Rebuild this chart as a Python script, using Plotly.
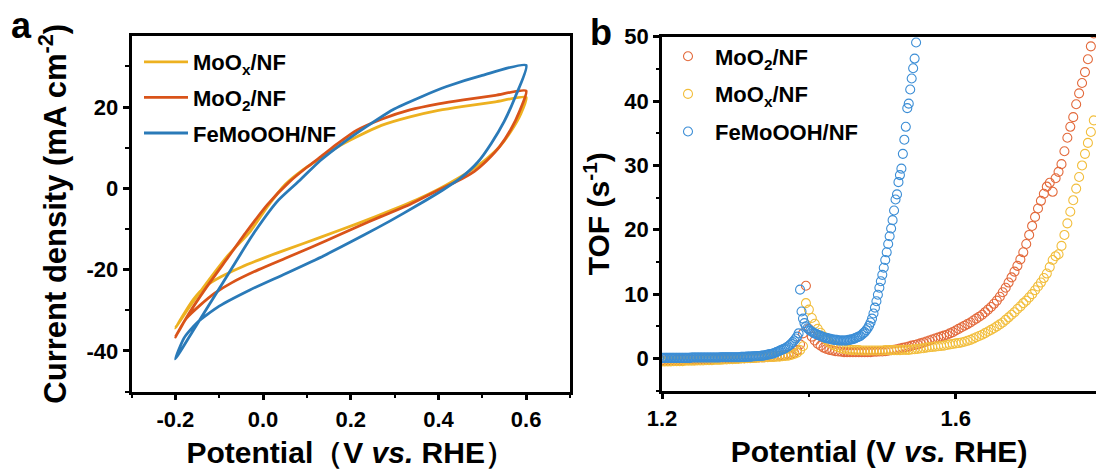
import numpy as np
import plotly.graph_objects as go

FONT = "Liberation Sans, Arial, sans-serif"

# ---------------- panel a: cyclic voltammograms ----------------
# each loop: anodic branch from -0.2 V up to 0.6 V, then cathodic branch back
moox_v = [-0.2, -0.17, -0.13, -0.08, -0.03, 0.01, 0.051, 0.09, 0.132, 0.17, 0.214, 0.27, 0.335, 0.4, 0.457, 0.53, 0.6,
          0.588, 0.565, 0.539, 0.51, 0.482, 0.44, 0.4, 0.35, 0.295, 0.22, 0.132, 0.05, 0.01, -0.05, -0.095, -0.13, -0.16, -0.2]
moox_j = [-34.4, -29.5, -23.5, -16.5, -10.7, -4.5, 1.0, 4.5, 7.5, 10.2, 12.7, 15.5, 17.6, 19.2, 20.2, 21.3, 22.4,
          18.4, 14.0, 10.2, 7.3, 5.0, 2.2, -0.2, -2.8, -5.3, -8.5, -12.0, -15.2, -16.8, -19.4, -21.7, -24.0, -27.5, -34.4]

moo2_v = [-0.2, -0.17, -0.13, -0.08, -0.038, 0.01, 0.06, 0.1, 0.132, 0.17, 0.214, 0.27, 0.335, 0.4, 0.457, 0.53, 0.6,
          0.585, 0.565, 0.539, 0.51, 0.482, 0.44, 0.4, 0.336, 0.27, 0.214, 0.173, 0.11, 0.051, -0.01, -0.071, -0.11,
          -0.144, -0.175, -0.2]
moo2_j = [-36.6, -31.0, -24.5, -17.0, -10.7, -4.0, 1.6, 5.2, 7.8, 11.0, 14.3, 17.0, 19.3, 20.8, 21.8, 22.9, 24.0,
          19.0, 14.5, 10.2, 6.8, 4.2, 1.6, -0.4, -3.9, -6.9, -9.5, -11.5, -14.5, -17.2, -20.0, -23.2, -25.8,
          -28.8, -32.0, -36.6]

femo_v = [-0.2, -0.16, -0.13, -0.08, -0.019, 0.035, 0.084, 0.13, 0.181, 0.24, 0.295, 0.36, 0.417, 0.5, 0.6,
          0.575, 0.55, 0.52, 0.49, 0.45, 0.41, 0.35, 0.29, 0.23, 0.14, 0.051, -0.03, -0.1, -0.15, -0.18, -0.2]
femo_j = [-42.0, -35.1, -29.9, -21.2, -10.7, -2.9, 2.0, 6.8, 11.1, 15.5, 19.3, 22.5, 25.0, 27.8, 30.3,
          22.5, 16.5, 11.0, 6.5, 2.5, -0.4, -4.3, -8.0, -11.5, -16.5, -21.0, -25.0, -29.0, -33.0, -36.8, -42.0]

a_xtick_vals = [-0.2, 0.0, 0.2, 0.4, 0.6]
a_xtick_text = ["-0.2", "0.0", "0.2", "0.4", "0.6"]
a_ytick_vals = [-40, -20, 0, 20]
a_ytick_text = ["-40", "-20", "0", "20"]

# ---------------- panel b: turnover frequency ----------------
E_START = 1.2
STEP_RED_YELLOW = 0.004
STEP_BLUE = 0.002

tof_moo2 = [
    -0.3, -0.3, -0.3, -0.3, -0.3, -0.25, -0.25, -0.25, -0.2, -0.2,
    -0.2, -0.2, -0.2, -0.15, -0.15, -0.15, -0.1, -0.1, -0.1, -0.1,
    -0.05, -0.05, 0.0, 0.0, 0.0, 0.0, 0.05, 0.05, 0.05, 0.1,
    0.1, 0.1, 0.15, 0.15, 0.2, 0.2, 0.25, 0.3, 0.3, 0.35,
    0.4, 0.45, 0.5, 0.6, 0.7, 0.9, 1.3, 2.2, 3.9, 11.3,
    4.6, 3.4, 2.8, 2.3, 2.0, 1.7, 1.5, 1.35, 1.25, 1.15,
    1.1, 1.05, 1.0, 1.0, 1.0, 1.0, 1.0, 1.0, 1.0, 1.0,
    1.0, 1.0, 1.05, 1.05, 1.1, 1.1, 1.15, 1.2, 1.3, 1.35,
    1.45, 1.55, 1.65, 1.75, 1.85, 2.0, 2.1, 2.2, 2.35, 2.5,
    2.65, 2.8, 2.95, 3.1, 3.25, 3.4, 3.55, 3.7, 3.9, 4.1,
    4.35, 4.6, 4.85, 5.1, 5.35, 5.6, 5.9, 6.2, 6.5, 6.8,
    7.2, 7.6, 8.0, 8.5, 9.0, 9.6, 10.3, 11.0, 11.8, 12.6,
    13.5, 14.4, 15.4, 16.5, 17.8, 19.2, 20.6, 22.0, 23.3, 24.5,
    25.6, 26.7, 27.3, 25.9, 28.0, 29.0, 30.2, 32.2, 34.3, 36.0,
    37.5, 39.5, 41.2, 42.8, 44.5, 46.5, 48.5, 50.5,
]

tof_moox = [
    -0.45, -0.45, -0.45, -0.45, -0.4, -0.4, -0.4, -0.4, -0.35, -0.35,
    -0.35, -0.35, -0.3, -0.3, -0.3, -0.25, -0.25, -0.25, -0.2, -0.2,
    -0.2, -0.15, -0.15, -0.1, -0.1, -0.05, -0.05, 0.0, 0.0, 0.05,
    0.05, 0.1, 0.1, 0.15, 0.15, 0.2, 0.2, 0.25, 0.25, 0.3,
    0.3, 0.35, 0.4, 0.45, 0.55, 0.7, 0.9, 1.3, 1.9, 8.6,
    7.6, 6.3, 5.4, 4.6, 4.0, 3.4, 2.9, 2.5, 2.2, 1.95,
    1.75, 1.6, 1.5, 1.4, 1.35, 1.3, 1.3, 1.3, 1.25, 1.25,
    1.25, 1.25, 1.25, 1.25, 1.25, 1.25, 1.3, 1.3, 1.3, 1.3,
    1.3, 1.3, 1.35, 1.35, 1.35, 1.4, 1.45, 1.5, 1.55, 1.6,
    1.7, 1.75, 1.8, 1.85, 1.9, 1.95, 2.0, 2.1, 2.2, 2.25,
    2.35, 2.4, 2.5, 2.6, 2.75, 2.9, 3.1, 3.3, 3.5, 3.7,
    3.95, 4.2, 4.45, 4.7, 5.0, 5.3, 5.6, 6.0, 6.4, 6.8,
    7.2, 7.7, 8.1, 8.6, 9.0, 9.5, 10.0, 10.6, 11.2, 11.8,
    12.5, 13.2, 14.2, 15.3, 15.9, 16.2, 17.5, 19.2, 21.0, 22.8,
    24.6, 26.4, 28.2, 30.0, 31.8, 33.5, 35.2, 37.0,
]

tof_femo = [
    0.1, 0.1, 0.1, 0.1, 0.1, 0.1, 0.1, 0.1, 0.1, 0.1,
    0.1, 0.1, 0.1, 0.1, 0.1, 0.1, 0.1, 0.1, 0.1, 0.1,
    0.15, 0.15, 0.15, 0.15, 0.15, 0.15, 0.15, 0.15, 0.15, 0.15,
    0.15, 0.15, 0.15, 0.15, 0.15, 0.15, 0.15, 0.15, 0.15, 0.15,
    0.2, 0.2, 0.2, 0.2, 0.2, 0.2, 0.2, 0.2, 0.2, 0.2,
    0.2, 0.2, 0.2, 0.2, 0.25, 0.25, 0.25, 0.25, 0.3, 0.3,
    0.3, 0.3, 0.35, 0.35, 0.35, 0.4, 0.4, 0.4, 0.45, 0.45,
    0.5, 0.55, 0.6, 0.65, 0.7, 0.75, 0.8, 0.9, 1.0, 1.1,
    1.2, 1.3, 1.4, 1.5, 1.6, 1.75, 1.9, 2.1, 2.3, 2.55,
    2.8, 3.1, 3.4, 3.9, 10.7, 7.3, 6.2, 5.5, 5.0, 4.7,
    4.5, 4.3, 4.2, 4.0, 3.9, 3.8, 3.7, 3.6, 3.5, 3.4,
    3.3, 3.2, 3.2, 3.1, 3.1, 3.0, 3.0, 2.9, 2.9, 2.9,
    2.8, 2.8, 2.8, 2.8, 2.8, 2.8, 2.8, 2.9, 2.9, 3.0,
    3.0, 3.1, 3.2, 3.3, 3.4, 3.5, 3.7, 3.9, 4.1, 4.4,
    4.7, 5.1, 5.6, 6.2, 7.0, 7.9, 8.9, 9.9, 11.0, 12.0,
    13.0, 14.1, 15.3, 16.5, 17.8, 19.0, 20.2, 21.5, 23.0, 24.7,
    25.5, 27.4, 28.5, 29.5, 31.8, 34.0, 36.0, 38.9, 39.6, 41.8,
    43.5, 45.1, 46.6, 49.1,
]


def potentials(values, step):
    return np.round(E_START + step * np.arange(len(values)), 4)


b_xtick_vals = [1.2, 1.6]
b_xtick_text = ["1.2", "1.6"]
b_ytick_vals = [0, 10, 20, 30, 40, 50]
b_ytick_text = ["0", "10", "20", "30", "40", "50"]

# colours
C_YEL, C_RED, C_BLU = "#EDB120", "#D95319", "#2A7AB8"
M_RED, M_YEL, M_BLU = "#E36A3C", "#F2BE3C", "#3C8ED6"

W, H = 1096, 472


def px_x(p):
    return p / W


def px_y(p):
    return 1 - p / H


fig = go.Figure()

for name, v, j, col in [
    ("MoO<sub>x</sub>/NF", moox_v, moox_j, C_YEL),
    ("MoO<sub>2</sub>/NF", moo2_v, moo2_j, C_RED),
    ("FeMoOOH/NF", femo_v, femo_j, C_BLU),
]:
    fig.add_trace(go.Scatter(
        x=v, y=j, mode="lines", name=name, legendgroup=name, legend="legend",
        line=dict(color=col, width=2.8, shape="spline", smoothing=0.6),
        xaxis="x", yaxis="y",
    ))

for name, tof, step, col in [
    ("MoO<sub>2</sub>/NF", tof_moo2, STEP_RED_YELLOW, M_RED),
    ("MoO<sub>x</sub>/NF", tof_moox, STEP_RED_YELLOW, M_YEL),
    ("FeMoOOH/NF", tof_femo, STEP_BLUE, M_BLU),
]:
    fig.add_trace(go.Scatter(
        x=potentials(tof, step), y=tof, mode="markers", name=name,
        legendgroup="b" + name, legend="legend2",
        marker=dict(symbol="circle-open", size=9, color=col, line=dict(width=1.1, color=col)),
        xaxis="x2", yaxis="y2",
    ))

axis_common = dict(
    showline=True, linewidth=2.5, linecolor="black", showgrid=False, zeroline=False,
    ticks="outside", ticklen=6, tickwidth=2.5, tickcolor="black",
    tickfont=dict(size=22, family=FONT, weight="bold", color="black"),
    tickmode="array", automargin=False,
)
title_font = dict(size=30, family=FONT, weight="bold", color="black")

fig.update_layout(
    width=W, height=H, margin=dict(l=0, r=0, t=0, b=0, autoexpand=False),
    paper_bgcolor="white", plot_bgcolor="white",
    font=dict(family=FONT, size=22, color="black", weight="bold"),
    xaxis=dict(
        axis_common, domain=[px_x(131.5), px_x(570)], range=[-0.3, 0.7], mirror=True,
        tickvals=a_xtick_vals, ticktext=a_xtick_text,
        minor=dict(tickmode="linear", tick0=-0.3, dtick=0.1, ticks="outside", ticklen=3.5, tickwidth=2),
        title=dict(text="Potential（V <i>vs.</i> RHE）", font=title_font, standoff=12),
        anchor="y",
    ),
    yaxis=dict(
        axis_common, domain=[px_y(391.5), px_y(36)], range=[-50, 37.5], mirror=True,
        tickvals=a_ytick_vals, ticktext=a_ytick_text,
        minor=dict(tickmode="linear", tick0=-50, dtick=10, ticks="outside", ticklen=3.5, tickwidth=2),
        title=dict(text="Current density (mA cm<sup>-2</sup>)",
                   font=dict(title_font, size=31), standoff=11),
        anchor="x",
    ),
    xaxis2=dict(
        axis_common, domain=[px_x(662), 1.0], range=[1.2, 1.791], mirror=True,
        tickvals=b_xtick_vals, ticktext=b_xtick_text,
        minor=dict(tickmode="linear", tick0=1.2, dtick=0.2, ticks="outside", ticklen=3.5, tickwidth=2),
        title=dict(text="Potential (V <i>vs.</i> RHE)", font=title_font, standoff=12),
        anchor="y2",
    ),
    yaxis2=dict(
        axis_common, domain=[px_y(390.7), px_y(36.7)], range=[-5, 50], mirror=False,
        tickvals=b_ytick_vals, ticktext=b_ytick_text,
        minor=dict(tickmode="linear", tick0=-5, dtick=10, ticks="outside", ticklen=3.5, tickwidth=2),
        title=dict(text="TOF (s<sup>-1</sup>)", font=title_font, standoff=6),
        anchor="x2",
    ),
    legend=dict(
        x=px_x(139), y=px_y(41), xanchor="left", yanchor="top",
        bgcolor="rgba(0,0,0,0)", borderwidth=0, itemwidth=44,
        traceorder="grouped", tracegroupgap=4,
        font=dict(size=22, family=FONT, weight="bold", color="black"),
    ),
    legend2=dict(
        x=px_x(661), y=px_y(35.5), xanchor="left", yanchor="top",
        bgcolor="rgba(0,0,0,0)", borderwidth=0, itemwidth=44,
        traceorder="grouped", tracegroupgap=6,
        font=dict(size=22, family=FONT, weight="bold", color="black"),
    ),
    showlegend=True,
)

for txt, x, y in [("a", 9, 25.5), ("b", 588, 32.5)]:
    fig.add_annotation(
        text=txt, x=px_x(x), y=px_y(y), xref="paper", yref="paper",
        xanchor="left", yanchor="middle", showarrow=False,
        font=dict(size=36, family=FONT, weight="bold", color="black"),
    )

fig.write_html("out.html")
